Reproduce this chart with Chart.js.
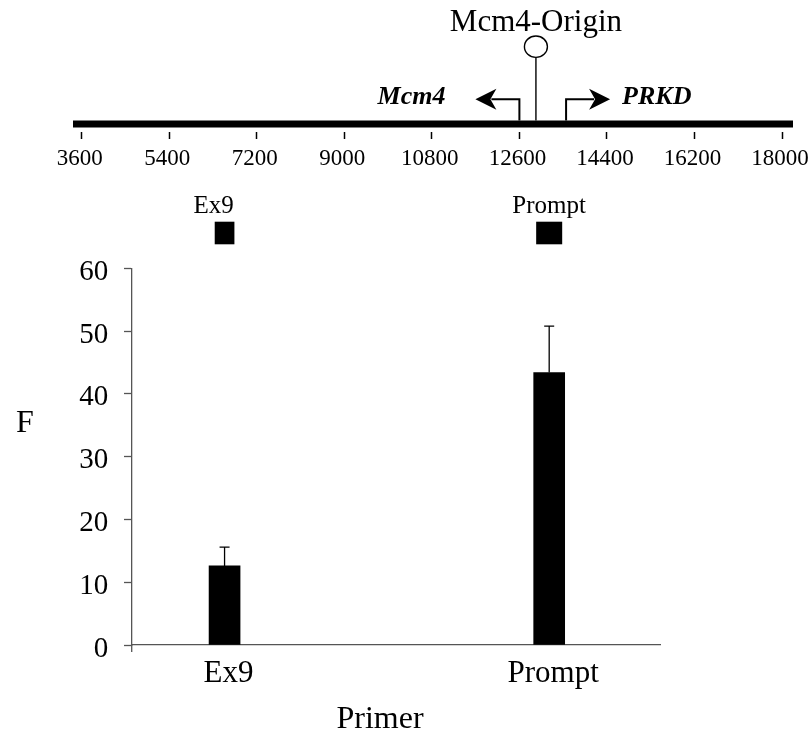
<!DOCTYPE html>
<html><head><meta charset="utf-8">
<script src="https://cdn.jsdelivr.net/npm/chart.js@4.4.1/dist/chart.umd.min.js"></script>
<style>
html,body{margin:0;padding:0;background:#fff;overflow:hidden;width:808px;height:733px;}
#map{position:absolute;left:0;top:0;}
#bars{position:absolute;left:0;top:235px;}
</style></head><body>
<canvas id="map" width="830" height="255"></canvas>
<canvas id="bars" width="808" height="498"></canvas>
<script>
// ---- data ----
const genomeTicks = [3600, 5400, 7200, 9000, 10800, 12600, 14400, 16200, 18000];
const genomeRange = [3421, 18226];
const originName = 'Mcm4-Origin';
const originPos = 12940;
const genes = ['Mcm4', 'PRKD'];
const geneTSS = [12600, 13560];
const geneStrand = [-1, 1];
const primers = ['Ex9', 'Prompt'];
const primerStart = [6335, 12945];
const primerEnd = [6740, 13480];
const enrichment = [12.6, 43.4];
const enrichmentErr = [3.0, 7.4];
const yTicks = [0, 10, 20, 30, 40, 50, 60];
const barRange = [4628, 15491];
const yTitle = 'F';
const xTitle = 'Primer';

const mid = primers.map((p, i) => (primerStart[i] + primerEnd[i]) / 2);
const SERIF = '"Liberation Serif","Times New Roman",serif';
const boxLabelShift = [-11, 0]; // style: label nudges above the primer boxes

const mapPlugin = {
  id: 'mapDecor',
  afterDraw(chart) {
    const ctx = chart.ctx, xs = chart.scales.x, a = chart.chartArea;
    const B = a.bottom - 7.5;
    const px = v => xs.getPixelForValue(v);
    ctx.save();
    ctx.fillStyle = '#000'; ctx.strokeStyle = '#000';
    // backbone
    ctx.fillRect(px(genomeRange[0]), B - 3.5, px(genomeRange[1]) - px(genomeRange[0]), 7);
    // origin
    const ox = px(originPos);
    ctx.lineWidth = 1.4;
    ctx.beginPath(); ctx.moveTo(ox, B - 3.5); ctx.lineTo(ox, B - 66.6); ctx.stroke();
    ctx.beginPath(); ctx.ellipse(ox, B - 77.3, 11.5, 10.7, 0, 0, Math.PI * 2); ctx.stroke();
    ctx.font = '31px ' + SERIF; ctx.textAlign = 'center'; ctx.textBaseline = 'alphabetic';
    ctx.fillText(originName, ox, B - 93.3);
    // genes with TSS arrows
    ctx.font = 'italic bold 26px ' + SERIF;
    genes.forEach((g, i) => {
      const tx = px(geneTSS[i]), d = geneStrand[i];
      const yTop = B - 24.7;
      const tip = tx + d * 44;
      ctx.lineWidth = 2;
      ctx.beginPath(); ctx.moveTo(tx, B - 3.5); ctx.lineTo(tx, yTop); ctx.lineTo(tip - d * 16, yTop); ctx.stroke();
      ctx.beginPath();
      ctx.moveTo(tip, yTop); ctx.lineTo(tip - d * 21, yTop - 10.5); ctx.lineTo(tip - d * 15, yTop);
      ctx.lineTo(tip - d * 21, yTop + 10.5); ctx.closePath(); ctx.fill();
      ctx.textAlign = d < 0 ? 'right' : 'left';
      ctx.fillText(g, d < 0 ? tx - 74 : tx + 56, B - 20);
    });
    // primer boxes
    ctx.font = '25px ' + SERIF; ctx.textAlign = 'center';
    primers.forEach((p, i) => {
      const x0 = px(primerStart[i]), x1 = px(primerEnd[i]);
      ctx.fillRect(x0, B + 97.7, x1 - x0, 22.6);
      ctx.fillText(p, (x0 + x1) / 2 + boxLabelShift[i], B + 89.3);
    });
    ctx.restore();
  }
};

new Chart(document.getElementById('map'), {
  type: 'scatter',
  data: { datasets: [] },
  options: {
    responsive: false, animation: false, devicePixelRatio: 1,
    layout: { padding: { left: 73, right: 37, top: 0, bottom: 0 } },
    plugins: { legend: { display: false }, tooltip: { enabled: false } },
    scales: {
      x: {
        type: 'linear', min: genomeRange[0], max: genomeRange[1],
        afterBuildTicks: s => { s.ticks = genomeTicks.map(v => ({ value: v })); },
        afterFit: s => { s.height = 123.5; },
        grid: { display: true, drawOnChartArea: false, drawTicks: true, tickLength: 7.5, tickColor: '#000', tickWidth: 1.5 },
        border: { display: false },
        ticks: { font: { family: SERIF, size: 23 }, color: '#000', padding: 6, labelOffset: -2, maxRotation: 0, autoSkip: false, callback: v => String(v) }
      },
      y: { display: false, min: 0, max: 1 }
    }
  },
  plugins: [mapPlugin]
});

const barPlugin = {
  id: 'barDecor',
  afterDatasetsDraw(chart) {
    const ctx = chart.ctx, xs = chart.scales.x, ys = chart.scales.y, a = chart.chartArea;
    ctx.save();
    ctx.strokeStyle = '#000'; ctx.lineWidth = 1.3;
    primers.forEach((p, i) => {
      const x = xs.getPixelForValue(mid[i]);
      const yt = ys.getPixelForValue(enrichment[i]);
      const ye = ys.getPixelForValue(enrichment[i] + enrichmentErr[i]);
      ctx.beginPath(); ctx.moveTo(x, yt); ctx.lineTo(x, ye);
      ctx.moveTo(x - 5, ye); ctx.lineTo(x + 5, ye); ctx.stroke();
    });
    ctx.strokeStyle = '#555';
    ctx.beginPath(); ctx.moveTo(a.left, a.bottom); ctx.lineTo(a.left, a.bottom + 7); ctx.stroke();
    ctx.fillStyle = '#000'; ctx.textAlign = 'center'; ctx.textBaseline = 'alphabetic';
    ctx.font = '32px ' + SERIF;
    ctx.fillText(yTitle, a.left - 106.7, a.top + 163.4);
    ctx.fillText(xTitle, a.left + 248.3, a.bottom + 83.3);
    ctx.restore();
  }
};

new Chart(document.getElementById('bars'), {
  type: 'bar',
  data: { datasets: [{ data: primers.map((p, i) => ({ x: mid[i], y: enrichment[i] })), backgroundColor: '#000', borderWidth: 0, barThickness: 31 }] },
  options: {
    responsive: false, animation: false, devicePixelRatio: 1,
    layout: { padding: { left: 0, right: 148, top: 33.3, bottom: 0 } },
    plugins: { legend: { display: false }, tooltip: { enabled: false } },
    scales: {
      x: {
        type: 'linear', min: barRange[0], max: barRange[1], offset: false,
        afterBuildTicks: s => { s.ticks = mid.map(v => ({ value: v })); },
        afterFit: s => { s.height = 88; },
        grid: { display: false, drawTicks: false, offset: false },
        border: { display: true, color: '#555', width: 1.3 },
        ticks: { font: { family: SERIF, size: 31 }, color: '#000', padding: 10, labelOffset: 4, maxRotation: 0, autoSkip: false, callback: (v, i) => primers[i] }
      },
      y: {
        type: 'linear', min: 0, max: 60,
        afterBuildTicks: s => { s.ticks = yTicks.map(v => ({ value: v })); },
        afterFit: s => { s.width = 131.7; },
        grid: { display: true, drawOnChartArea: false, drawTicks: true, tickLength: 7.7, tickColor: '#555', tickWidth: 1.3 },
        border: { display: true, color: '#555', width: 1.3 },
        ticks: { font: { family: SERIF, size: 29 }, color: '#000', padding: 15.7, labelOffset: 4 }
      }
    }
  },
  plugins: [barPlugin]
});
</script>
</body></html>
